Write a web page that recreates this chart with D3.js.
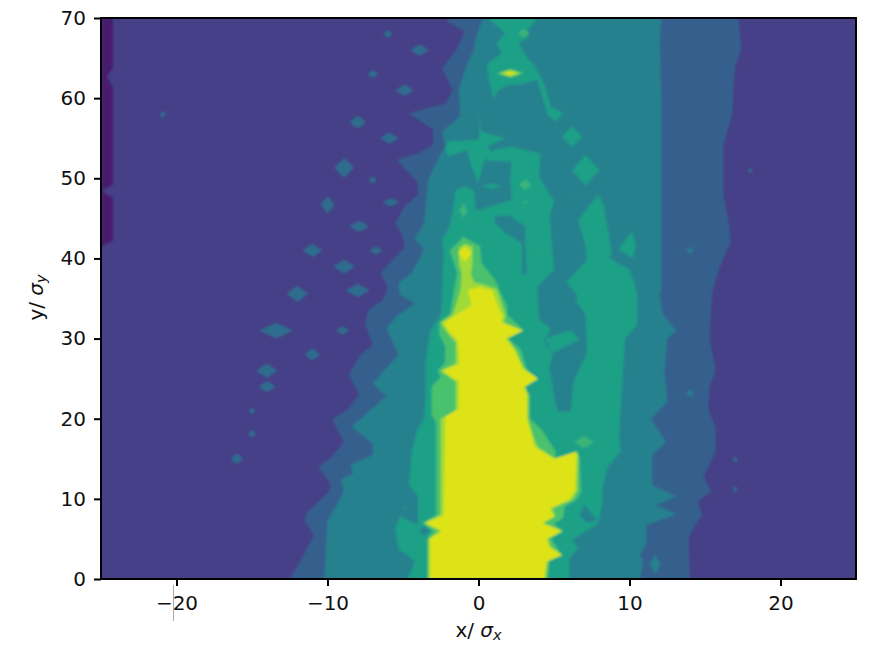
<!DOCTYPE html>
<html><head><meta charset="utf-8">
<script src="https://cdn.jsdelivr.net/npm/d3@7"></script>
<style>html,body{margin:0;background:#fff}svg{display:block}text{font-family:"DejaVu Sans",sans-serif;fill:#111}</style>
</head><body><svg id="c" width="869" height="645"></svg>
<script>
// colour of each contour band, lowest to highest
const bandColors = ["#471a6e","#443f87","#35608d","#26818e","#1fa187","#4ac16d","#a0da39","#dde318"];
const lowIslandColor = "#2f6d8e";
const smallGreenColor = "#3ab47a";
const xTicks = [-20,-10,0,10,20];
const yTicks = [0,10,20,30,40,50,60,70];

// contour outlines, as [x, y] in data units
const band0Strip = [[-25,41.5],[-24.2,42.2],[-24.2,47.6],[-25,48.4],[-24.2,49.2],[-24.2,61.3],[-24.6,62.7],[-24.2,63.8],[-24.2,70],[-25,70]];
const band2Main = [[-12.5,0],[-11.8,2.2],[-10.9,5.5],[-11.5,7.2],[-11.4,8.2],[-9.9,10.9],[-9.8,11.9],[-10.6,14],[-9.8,15.1],[-8.9,17.1],[-9.7,19.9],[-8.7,21.1],[-7.9,23],[-8.6,25.5],[-7.8,28],[-7,29.2],[-7.5,31.9],[-7.3,33.6],[-6.3,34.8],[-6,36.5],[-6.5,38.2],[-4.9,41.3],[-5,42.7],[-5.5,44.4],[-4.9,46.5],[-4,47.9],[-4,49.4],[-5.4,52.3],[-4,53.1],[-3,54.2],[-3,56.1],[-4.6,58.1],[-3.6,58.6],[-2.2,59.3],[-1.7,61],[-2.4,63.7],[-1.4,66.3],[-0.9,68.3],[-2.1,69.6],[-2,70],[17.2,70],[17.4,66.2],[17,64],[16.9,62],[16.8,58],[16.2,54],[16.2,48],[16.4,46],[16.6,44],[16.7,42],[16.2,40],[15.8,38],[15.5,36],[15.4,34],[15.3,30],[15.7,26],[15.3,24],[15.2,21.3],[15.7,18.8],[15.7,15.9],[14.9,12.8],[15.4,10.9],[14.5,9.7],[14.8,8],[14.2,6.3],[13.9,4.9],[14,0]];
const band3Main = [[-10.2,0],[-10,7.2],[-8.9,10.9],[-9.1,12.4],[-8.3,13.2],[-8.5,14.2],[-7,15.5],[-7,16.9],[-8.4,19],[-6.1,22.8],[-7,24.4],[-5.3,28],[-6.1,31.3],[-5.4,32.8],[-4.2,34.4],[-5.2,35.5],[-5.3,36.9],[-4.4,38.2],[-3.6,41.1],[-4.2,42.5],[-3.6,44.4],[-3.3,49.9],[-2.55,52.9],[-2.2,54.1],[-2.4,55.8],[-1.2,57.8],[-1.3,61],[-0.8,64],[-0.3,66],[-0.2,67.3],[0.3,70],[12.1,70],[12,67],[12.1,60],[12.1,36],[12,35.5],[12.2,33],[13.1,31],[12.5,30],[12.4,28],[12.3,26],[12.5,22.1],[11.4,20],[12.4,17.1],[11.5,15.5],[11.5,11.7],[13.1,10.3],[11.7,9.2],[13.1,8.1],[11.1,6.7],[11.1,4.5],[10.7,3],[10.9,2.2],[10.7,0]];
const band4Main = [[-4.7,0],[-4.2,2.2],[-5.3,3.8],[-5.5,6.3],[-5.2,7.8],[-4,6.7],[-4,10.4],[-4.6,11.7],[-4.4,16.1],[-4,18.8],[-3.6,20],[-3.5,23],[-3.5,27.1],[-3.2,30.9],[-2.5,33],[-2.4,34.6],[-2.4,36],[-2.3,41],[-2.4,42.3],[-1.9,44],[-1.7,46],[-1.5,48.5],[-0.9,49],[-0.3,48.4],[-0.2,46.2],[0,46],[2.2,47.3],[2.1,50.2],[2.2,52.1],[0.5,52.2],[1.1,53.6],[2.2,53.9],[4.1,53.1],[4,50.2],[5,47.1],[7.95,47.9],[8.3,46.5],[8.8,41],[8.7,40],[10,38.6],[10.4,36.4],[10.5,35.5],[10.5,31.7],[9.7,30],[9.4,20.9],[9.3,17.6],[9.4,15.9],[8.5,13.8],[8.2,11.3],[8.2,9.4],[7.9,6.9],[6.2,4.9],[6.6,3.9],[6,2.6],[6,0]];
const band4Lobe = [[-2.2,53.6],[-2,54.6],[0,54.8],[0.07,55.8],[0.04,58.1],[0.18,55.8],[1.77,55],[0.55,54],[1.1,52.9],[0.4,52.3],[-0.03,49.4],[-0.45,51.5],[-0.77,53.6],[-2,52.7]];
const band4Upper = [[0.77,70],[3.9,70],[3.2,68.3],[3.3,67.5],[2.65,66.9],[3.2,65],[3.75,64],[4.4,61.5],[4.75,59],[5.6,58.1],[5.1,57.1],[4.6,57.9],[3.9,62.3],[2.76,61.7],[2,61.7],[1.3,61],[1,59.9],[0.77,61.7],[0.55,64.2],[1.55,65.6],[1.2,66.9],[1.77,68.1],[0.77,69.8]];
const band4Wedge = [[4.4,30],[6.1,31],[6.7,29.9],[4.9,28.2]];
const band4Side = [[10.2,43.4],[10.4,41.5],[10.2,40],[9.3,41.2]];
const band3Channel = [[5,47.1],[4.7,45.2],[5,38.6],[3.9,36.5],[3.9,35.5],[4,32.5],[4.8,31.1],[4.3,29.8],[4.9,28.2],[4.7,26.3],[5.1,21.7],[5.3,20.9],[6.1,20.9],[6.3,24.6],[7.2,28.3],[7.1,33],[6.5,34.6],[6.5,35.5],[5.85,37.1],[7.2,39.8],[7.06,41.9],[6.6,44.8],[7.3,46.5],[7.95,47.9]];
const band3Pocket = [[1.04,45.2],[2,45.4],[3.1,44],[3.1,41.9],[3.2,38],[2.9,38],[2.87,41.9],[1.77,43.2],[1.1,44.4]];
const band3Nook = [[7,9.3],[7.9,7.2],[7.1,7.1],[6.7,8]];
const band5Main = [[-3.4,0],[-3.4,5],[-3,6],[-3.7,7],[-2.8,8],[-2.8,19.5],[-3.1,20.5],[-3.1,24],[-2.5,25.2],[-2.7,26],[-2.2,27],[-2.2,29],[-2.6,30.5],[-2.6,32],[-1.9,33],[-1.7,35.2],[-1.4,38.2],[-1.9,41],[-1,42.7],[0.1,41.5],[0.2,39.4],[1.1,37.3],[1.6,35.2],[1.9,34],[1.9,33],[3,31],[2,30],[2.8,28.6],[3.2,26.1],[3.9,24.8],[2.8,24],[3.4,23],[3.4,20],[4.2,18.6],[5.1,15.9],[5.1,14.6],[6.5,15.3],[6.7,15.3],[6.8,10.9],[6.5,9.9],[5.7,9],[5.6,7.6],[5,6.9],[5.6,5.9],[4.8,5.1],[5.5,3],[4.7,2.2],[4.6,0]];
const band6Main = [[-3.3,0],[-3.3,5],[-2.6,6],[-3.6,7],[-2.5,8],[-2.5,20],[-1.5,21],[-1.5,24.6],[-2.5,26],[-1.5,26.9],[-1.5,29.5],[-2.1,30.8],[-2.5,32],[-1.7,33],[-1.2,36],[-1.1,38],[-1.3,39.5],[-1.3,41.3],[-0.9,41.8],[-0.4,41.5],[-0.4,39.5],[-0.5,38],[-0.3,37],[0.2,36.8],[1.2,36.2],[1.6,34],[1.8,33],[1.7,32],[2.95,31],[1.9,30],[2.5,28.5],[3,26.3],[3.95,25],[3.1,24],[3.3,23],[3.3,20],[3.6,18],[3.9,16.5],[5.1,15],[6.6,15.7],[6.55,11],[6.2,9.9],[4.9,8.8],[5.1,7.8],[4.3,7],[5.55,6],[4.6,5],[4.8,4],[5.55,3],[4.6,2.2],[4.45,0]];
const band7Main = [[-3.2,0],[-3.2,5.1],[-2.4,6],[-3.5,7],[-2.3,8],[-2.2,20.2],[-1.3,21.3],[-1.3,24.6],[-2.4,26],[-1.3,26.8],[-1.3,28.1],[-1.4,29.8],[-1.9,30.8],[-2.3,31.9],[-1.7,32.7],[-0.45,34.2],[-0.7,36.1],[0.1,36.4],[0.9,36],[1.3,34],[1.6,32.8],[1.5,32],[2.9,31],[1.8,30],[2.4,28.5],[2.9,26.3],[3.9,25],[3,24],[3.2,23],[3.2,20],[3.5,18],[3.7,16.5],[5,15],[6.5,15.9],[6.4,11],[6,9.9],[4.7,8.8],[5,7.8],[4.2,7],[5.5,6],[4.5,5],[4.7,4],[5.5,3],[4.5,2.2],[4.35,0]];
const band7Blob = [[-0.9,41.5],[-0.45,40.7],[-0.9,39.6],[-1.35,40.7]];

// small closed contours, as [x, y, half-width, half-height]
const islands2 = [[-6,68,.3,.5],[-3.9,66,.6,.7],[-7,63,.35,.5],[-4.9,61,.6,.7],[-8,57,.55,.8],[-5.9,55,.6,.7],[-8.9,51.3,.65,1.2],[-7,49.8,.25,.45],[-10,46.7,.45,1.05],[-5.8,47,.55,.5],[-7.9,44,.65,.7],[-6.8,41,.45,.5],[-11,41,.65,.8],[-8.9,39,.7,.85],[-8,36,.8,.8],[-12,35.6,.7,1],[-13.4,31,1.1,.95],[-9,31,.45,.5],[-11,28,.5,.75],[-14,26,.7,.85],[-14,24,.55,.7],[-15,21,.22,.4],[-15,18.1,.25,.45],[-16,15,.4,.65],[-20.9,58,.2,.4],[18,51,.15,.35],[17,14.9,.15,.4],[17,11.2,.15,.4]];
const islands3 = [[11.7,1.8,.35,1.2],[14,41,.25,.4],[14,23.2,.22,.45],[-3.6,6,.35,.6]];
const islands4 = [[7.1,51,.9,1.9],[6.2,55.2,.65,1.25],[0.88,49,.6,.35],[-4.85,8.8,.15,.15]];
const smallGreens = [[7,17.1,.65,.75],[3.1,49.2,.4,.7],[3.1,47,.2,.15],[3,68.1,.4,.5],[4,41,.08,.1],[-1,46,.25,1]];
const islands5 = [[2.1,63.1,.9,.55]];
const islands6 = [[2.1,63.1,.7,.4]];
const islands7 = [[2.1,63.1,.4,.2]];

const svg = d3.select("#c");
const plotL=101, plotR=856, plotT=18, plotB=579;
const x = d3.scaleLinear().domain([-25,25]).range([plotL,plotR]);
const y = d3.scaleLinear().domain([0,70]).range([plotB,plotT]);
const line = d3.line().x(d=>x(d[0])).y(d=>y(d[1])).curve(d3.curveLinearClosed);
const diamond = d=>[[d[0]-d[2],d[1]],[d[0],d[1]+d[3]],[d[0]+d[2],d[1]],[d[0],d[1]-d[3]]];

svg.append("defs").append("clipPath").attr("id","plot").append("rect")
  .attr("x",plotL).attr("y",plotT).attr("width",plotR-plotL).attr("height",plotB-plotT);
const f = svg.select("defs").append("filter").attr("id","soft").attr("x","-2%").attr("y","-2%").attr("width","104%").attr("height","104%");
f.append("feGaussianBlur").attr("stdDeviation",0.8);

const g = svg.append("g").attr("clip-path","url(#plot)").append("g").attr("filter","url(#soft)");
g.append("rect").attr("x",plotL-5).attr("y",plotT-5).attr("width",plotR-plotL+10).attr("height",plotB-plotT+10).attr("fill",bandColors[1]);

const c = i=>bandColors[i];
const layers = [
 [c(0),band0Strip],[c(2),band2Main],...islands2.map(d=>[lowIslandColor,diamond(d)]),
 [c(3),band3Main],...islands3.slice(0,3).map(d=>[c(3),diamond(d)]),
 [c(4),band4Main],[c(3),band3Channel],[c(3),band3Pocket],[c(3),band3Nook],[c(3),diamond(islands3[3])],
 [c(4),band4Lobe],[c(4),band4Upper],[c(4),band4Wedge],[c(4),band4Side],...islands4.map(d=>[c(4),diamond(d)]),
 ...smallGreens.map(d=>[smallGreenColor,diamond(d)]),
 ...islands5.map(d=>[c(5),diamond(d)]),[c(5),band5Main],
 ...islands6.map(d=>[c(6),diamond(d)]),[c(6),band6Main],
 ...islands7.map(d=>[c(7),diamond(d)]),[c(7),band7Main],[c(7),band7Blob]
];
g.selectAll("path.band").data(layers).join("path").attr("class","band")
  .attr("d",d=>line(d[1])).attr("fill",d=>d[0]);

const fs = 20;
const ax = svg.append("g").attr("transform",`translate(0,${plotB})`)
  .call(d3.axisBottom(x).tickValues(xTicks).tickSize(7).tickPadding(10).tickFormat(d=>String(d).replace("-","\u2212")));
const ay = svg.append("g").attr("transform",`translate(${plotL},0)`)
  .call(d3.axisLeft(y).tickValues(yTicks).tickSize(7).tickPadding(8));
[ax,ay].forEach(a=>{a.select(".domain").remove();a.selectAll("line").attr("stroke","#000").attr("stroke-width",2);a.selectAll("text").attr("font-size",fs).attr("font-family","DejaVu Sans").attr("fill","#111");});
svg.append("rect").attr("x",plotL).attr("y",plotT).attr("width",plotR-plotL).attr("height",plotB-plotT)
  .attr("fill","none").attr("stroke","#000").attr("stroke-width",2);

// stray vertical mark under the -20 tick
svg.append("line").attr("x1",x(-20)-3).attr("x2",x(-20)-3).attr("y1",585).attr("y2",621).attr("stroke","#aaa").attr("stroke-width",1);

function label(t,first,sub){
  t.append("tspan").text(first);
  t.append("tspan").attr("font-style","italic").text(" \u03c3");
  t.append("tspan").attr("font-style","italic").attr("font-size",14.5).attr("dy",3).text(sub);
}
label(svg.append("text").attr("x",x(0)).attr("y",637).attr("text-anchor","middle").attr("font-size",fs),"x/","x");
label(svg.append("text").attr("transform",`translate(43,${(plotT+plotB)/2-1}) rotate(-90)`).attr("text-anchor","middle").attr("font-size",fs),"y/","y");
</script></body></html>
